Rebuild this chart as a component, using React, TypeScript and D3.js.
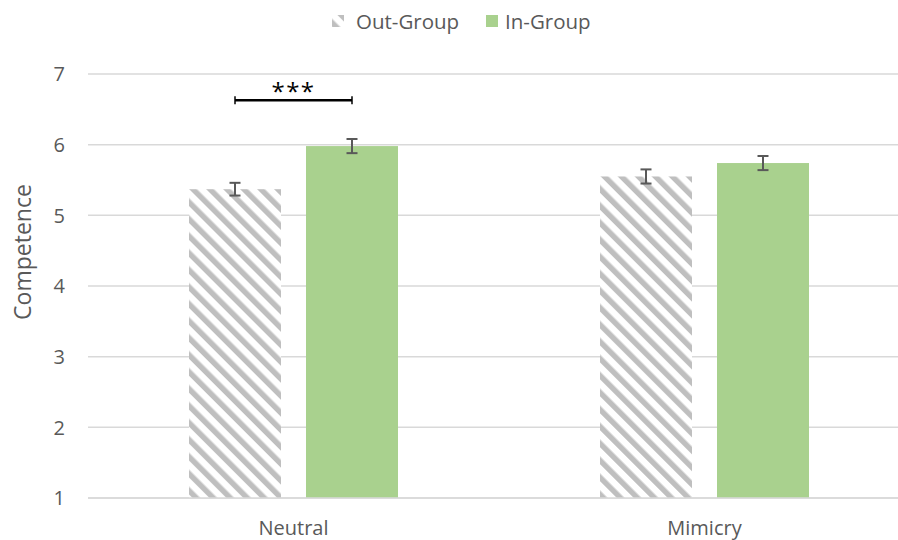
import React from "react";
import * as d3 from "d3";

const categories = ["Neutral", "Mimicry"];
const seriesNames = ["Out-Group", "In-Group"];
const outGroup = [5.37, 5.55];
const inGroup = [5.98, 5.74];
const outErr = [0.09, 0.1];
const inErr = [0.1, 0.1];
const yTicks = [1, 2, 3, 4, 5, 6, 7];
const sigLabel = "***";

const W = 898;
const H = 540;
const FONT = "'Open Sans', sans-serif";

export default function App() {
  const x0 = d3.scaleBand<string>().domain(categories).range([88, 910]).paddingInner(0).paddingOuter(0);
  const x1 = d3.scaleBand<string>().domain(seriesNames).range([-104.5, 104.5]).paddingInner(25 / 117).paddingOuter(0);
  const y = d3.scaleLinear().domain([1, 7]).range([498, 74]);
  const grey = "#595959";
  const series = [
    { name: seriesNames[0], vals: outGroup, err: outErr, fill: "url(#hatch)" },
    { name: seriesNames[1], vals: inGroup, err: inErr, fill: "#A9D18E" },
  ];
  const cx = (c: string) => (x0(c) as number) + x0.bandwidth() / 2;
  const bw = x1.bandwidth();
  const barCenter = (c: string, s: string) => cx(c) + (x1(s) as number) + bw / 2;
  const b1 = barCenter(categories[0], seriesNames[0]);
  const b2 = barCenter(categories[0], seriesNames[1]);
  const bracketY = y(6.63);
  return (
    <svg width={W} height={H} style={{ position: "absolute", left: 0, top: 0, background: "#fff" }}>
      <defs>
        <pattern id="hatch" patternUnits="userSpaceOnUse" width={12} height={12} patternTransform="rotate(-45)">
          <rect width={12} height={12} fill="#fff" />
          <rect x={0} y={0} width={5.5} height={12} fill="#BFBFBF" />
        </pattern>
      </defs>
      {yTicks.map((t) => (
        <g key={t}>
          <line x1={88} x2={898} y1={y(t)} y2={y(t)} stroke="#D9D9D9" strokeWidth={1.5} />
          <text x={65} y={y(t)} dy="0.36em" textAnchor="end" fontFamily={FONT} fontSize={20} fill={grey}>
            {t}
          </text>
        </g>
      ))}
      <text
        transform={`translate(31,${y(4) - 34}) rotate(-90)`}
        textAnchor="middle"
        fontFamily={FONT}
        fontSize={23}
        fill={grey}
      >
        Competence
      </text>
      {series.map((s) =>
        categories.map((c, i) => {
          const xc = barCenter(c, s.name);
          return (
            <g key={s.name + c}>
              <rect x={xc - bw / 2} y={y(s.vals[i])} width={bw} height={y(1) - y(s.vals[i])} fill={s.fill} />
              <line x1={xc} x2={xc} y1={y(s.vals[i] + s.err[i])} y2={y(s.vals[i] - s.err[i])} stroke={grey} strokeWidth={2} />
              <line x1={xc - 5.5} x2={xc + 5.5} y1={y(s.vals[i] + s.err[i])} y2={y(s.vals[i] + s.err[i])} stroke={grey} strokeWidth={2} />
              <line x1={xc - 5.5} x2={xc + 5.5} y1={y(s.vals[i] - s.err[i])} y2={y(s.vals[i] - s.err[i])} stroke={grey} strokeWidth={2} />
            </g>
          );
        })
      )}
      <line x1={88} x2={898} y1={y(1)} y2={y(1)} stroke="#D9D9D9" strokeWidth={1.5} />
      {categories.map((c) => (
        <text key={c} x={cx(c)} y={535} textAnchor="middle" fontFamily={FONT} fontSize={20} fill={grey}>
          {c}
        </text>
      ))}
      <g>
        <line x1={b1} x2={b2} y1={bracketY} y2={bracketY} stroke="#000" strokeWidth={2.5} />
        <line x1={b1} x2={b1} y1={bracketY - 4} y2={bracketY + 4} stroke="#000" strokeWidth={1.5} />
        <line x1={b2} x2={b2} y1={bracketY - 4} y2={bracketY + 4} stroke="#000" strokeWidth={1.5} />
        <text x={(b1 + b2) / 2} y={bracketY} textAnchor="middle" fontFamily={FONT} fontSize={24} letterSpacing={1.5} fill="#000">
          {sigLabel}
        </text>
      </g>
      <g>
        <rect x={332} y={15} width={12} height={12} fill="url(#hatch)" />
        <text x={356} y={29} fontFamily={FONT} fontSize={20.5} fill={grey}>
          {seriesNames[0]}
        </text>
        <rect x={486} y={15} width={12} height={12} fill="#A9D18E" />
        <text x={505} y={29} fontFamily={FONT} fontSize={20.5} fill={grey}>
          {seriesNames[1]}
        </text>
      </g>
    </svg>
  );
}
